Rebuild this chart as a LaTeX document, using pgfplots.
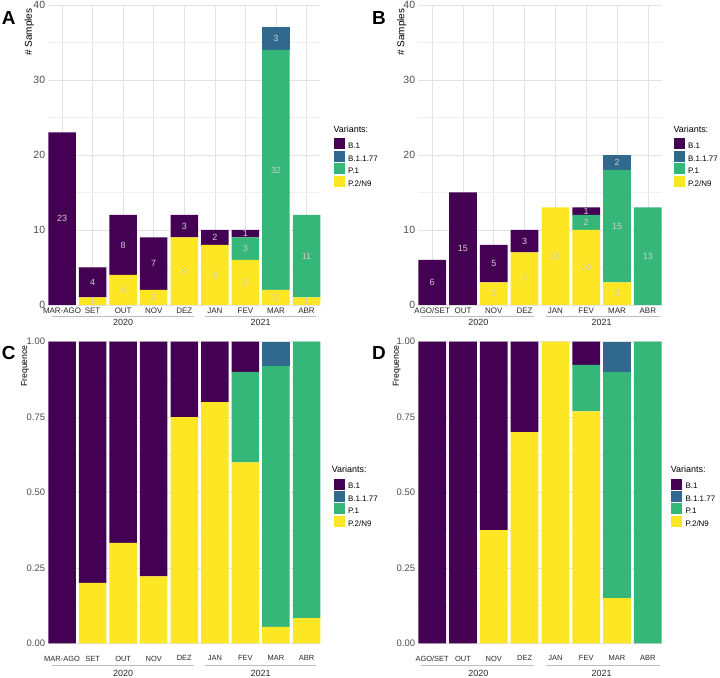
\documentclass[border=0pt]{standalone}
\usepackage{fontspec}
\setmainfont{Liberation Sans}
\usepackage{pgfplots}
\usepackage{pgfplotstable}
\pgfplotsset{compat=1.18}

\definecolor{cB}{HTML}{440154}
\definecolor{cBB}{HTML}{31688E}
\definecolor{cP}{HTML}{35B779}
\definecolor{cPN}{HTML}{FDE725}
\definecolor{gmaj}{HTML}{E2E2E2}
\definecolor{gmin}{HTML}{EFEFEF}
\definecolor{tgray}{HTML}{4D4D4D}
\definecolor{lblgray}{HTML}{CDCDCD}
\definecolor{yline}{HTML}{BDBDBD}

% counts, panel A
\pgfplotstableread{
x p2 p1 b77 b1
0 0 0 0 23
1 1 0 0 4
2 4 0 0 8
3 2 0 0 7
4 9 0 0 3
5 8 0 0 2
6 6 3 0 1
7 2 32 3 0
8 1 11 0 0
}\countsA
\pgfplotstableread{
x y t
0 11.5 23
1 0.5 1
1 3 4
2 2 4
2 8 8
3 1 2
3 5.5 7
4 4.5 9
4 10.5 3
5 4 8
5 9 2
6 3 6
6 7.5 3
6 9.5 1
7 1 2
7 18 32
7 35.5 3
8 0.5 1
8 6.5 11
}\labA
% counts, panel B
\pgfplotstableread{
x p2 p1 b77 b1
0 0 0 0 6
1 0 0 0 15
2 3 0 0 5
3 7 0 0 3
4 13 0 0 0
5 10 2 0 1
6 3 15 2 0
7 0 13 0 0
}\countsB
\pgfplotstableread{
x y t
0 3 6
1 7.5 15
2 1.5 3
2 5.5 5
3 3.5 7
3 8.5 3
4 6.5 13
5 5 10
5 11 2
5 12.5 1
6 1.5 3
6 10.5 15
6 19 2
7 6.5 13
}\labB
% frequencies, panel C
\pgfplotstableread{
x p2 p1 b77 b1
0 0 0 0 1
1 0.2 0 0 0.8
2 0.3333 0 0 0.6667
3 0.2222 0 0 0.7778
4 0.75 0 0 0.25
5 0.8 0 0 0.2
6 0.6 0.3 0 0.1
7 0.0541 0.8649 0.0811 0
8 0.0833 0.9167 0 0
}\freqC
% frequencies, panel D
\pgfplotstableread{
x p2 p1 b77 b1
0 0 0 0 1
1 0 0 0 1
2 0.375 0 0 0.625
3 0.7 0 0 0.3
4 1 0 0 0
5 0.7692 0.1538 0 0.0769
6 0.15 0.75 0.1 0
7 0 1 0 0
}\freqD

\pgfplotsset{
  panel/.style={
    scale only axis, anchor=south west, clip=false,
    axis line style={draw=none}, tick style={draw=none},
    major tick length=0pt, minor tick length=0pt,
    grid=both,
    major grid style={draw=gmaj, line width=0.6bp},
    minor grid style={draw=gmin, line width=0.45bp},
    /pgf/number format/assume math mode=true,
    yticklabel style={text=tgray, inner sep=0pt, xshift=-3bp},
    xticklabel style={text=black!85, inner sep=0pt},
    ymin=0,
    ybar stacked, bar width=0.9,
    reverse legend,
    legend cell align=left,
  },
  countaxis/.style={
    ymax=40, ytick={0,10,20,30,40}, minor ytick={5,15,25,35},
    yticklabel style={font=\fontsize{10.5}{12}\selectfont},
    xticklabel style={font=\fontsize{8}{9}\selectfont, yshift=-3bp},
    ylabel={\# Samples},
  },
  freqaxis/.style={
    ymax=1, ytick={0,0.25,0.5,0.75,1}, minor ytick={0.125,0.375,0.625,0.875},
    yticklabel style={font=\fontsize{9.5}{11}\selectfont, /pgf/number format/.cd, fixed, fixed zerofill, precision=2},
    xticklabel style={font=\fontsize{7.5}{9}\selectfont, yshift=-12.3bp},
    ylabel={Frequence},
  },
  legpos/.style 2 args={
    legend style={at={(axis description cs:#1,#2)}, anchor=north west, draw=none, fill=none,
      inner sep=0pt, row sep=0pt, nodes={inner sep=0.45bp, font=\fontsize{8}{9}\selectfont}},
  },
  vbar/.style={fill=#1, draw=none,
    legend image code/.code={\fill[#1] (0bp,-2.6bp) rectangle (11bp,8.4bp); \path (14.2bp,0bp);}},
  labelaxis/.style={scale only axis, anchor=south west, hide axis, clip=false, ymin=0},
  barlabels/.style={only marks, mark=none, nodes near coords, point meta=explicit symbolic,
    nodes near coords style={anchor=center, font=\fontsize{9}{10}\selectfont, text=lblgray}},
}

\newcommand\yearmarks[8]{% #1 line shift, #2 label shift, #3 2020 from, #4 2020 to, #5 2020 centre, #6 2021 from, #7 2021 to, #8 2021 centre
  \draw[yline, line width=0.7bp] ([yshift=-#1]axis cs:#3,0) -- ([yshift=-#1]axis cs:#4,0);
  \draw[yline, line width=0.7bp] ([yshift=-#1]axis cs:#6,0) -- ([yshift=-#1]axis cs:#7,0);
  \node[anchor=north, inner sep=0pt, text=black!85, font=\fontsize{9}{10}\selectfont] at ([yshift=-#2]axis cs:#5,0) {2020};
  \node[anchor=north, inner sep=0pt, text=black!85, font=\fontsize{9}{10}\selectfont] at ([yshift=-#2]axis cs:#8,0) {2021};
}

\begin{document}
\begin{tikzpicture}
\path[use as bounding box] (0bp,0bp) rectangle (720bp,678bp);

% ---------------- Panel A ----------------
\begin{axis}[panel, countaxis, at={(48.3bp,373bp)}, width=272bp, height=300bp,
  xmin=-0.45, xmax=8.45,
  xtick={0,...,8}, xticklabels={MAR-AGO,SET,OUT,NOV,DEZ,JAN,FEV,MAR,ABR},
  ylabel style={at={(axis description cs:-0.0699,1)}, anchor=east, font=\fontsize{10}{12}\selectfont},
  legpos={1.0478}{0.5557},
]
\addplot[vbar=cPN] table[x=x,y=p2]{\countsA}; \addlegendentry{P.2/N9}
\addplot[vbar=cP] table[x=x,y=p1]{\countsA}; \addlegendentry{P.1}
\addplot[vbar=cBB] table[x=x,y=b77]{\countsA}; \addlegendentry{B.1.1.77}
\addplot[vbar=cB] table[x=x,y=b1]{\countsA}; \addlegendentry{B.1}
\yearmarks{11.7bp}{14.5bp}{-0.33}{4.31}{2}{4.68}{8.32}{6.5}
\node[anchor=west, inner sep=0pt, font=\fontsize{9}{10}\selectfont] at (axis description cs:1.0478,0.5857) {Variants:};
\end{axis}
\begin{axis}[labelaxis, at={(48.3bp,373bp)}, width=272bp, height=300bp, xmin=-0.45, xmax=8.45, ymax=40]
\addplot[barlabels] table[x=x,y=y,meta=t]{\labA};
\end{axis}

% ---------------- Panel B ----------------
\begin{axis}[panel, countaxis, at={(418.3bp,373bp)}, width=243.4bp, height=300bp,
  xmin=-0.45, xmax=7.45,
  xtick={0,...,7}, xticklabels={AGO/SET,OUT,NOV,DEZ,JAN,FEV,MAR,ABR},
  ylabel style={at={(axis description cs:-0.068,1)}, anchor=east, font=\fontsize{10}{12}\selectfont},
  legpos={1.0477}{0.5557},
]
\addplot[vbar=cPN] table[x=x,y=p2]{\countsB}; \addlegendentry{P.2/N9}
\addplot[vbar=cP] table[x=x,y=p1]{\countsB}; \addlegendentry{P.1}
\addplot[vbar=cBB] table[x=x,y=b77]{\countsB}; \addlegendentry{B.1.1.77}
\addplot[vbar=cB] table[x=x,y=b1]{\countsB}; \addlegendentry{B.1}
\yearmarks{11.7bp}{14.5bp}{-0.35}{3.3}{1.5}{3.7}{7.4}{5.5}
\node[anchor=west, inner sep=0pt, font=\fontsize{9}{10}\selectfont] at (axis description cs:1.0477,0.5857) {Variants:};
\end{axis}
\begin{axis}[labelaxis, at={(418.3bp,373bp)}, width=243.4bp, height=300bp, xmin=-0.45, xmax=7.45, ymax=40]
\addplot[barlabels] table[x=x,y=y,meta=t]{\labB};
\end{axis}

% ---------------- Panel C ----------------
\begin{axis}[panel, freqaxis, at={(48.3bp,34.7bp)}, width=272bp, height=301.6bp,
  xmin=-0.45, xmax=8.45,
  xtick={0,...,8}, xticklabels={MAR-AGO,SET,OUT,NOV,DEZ,JAN,FEV,MAR,ABR},
  ylabel style={at={(axis description cs:-0.0857,1)}, anchor=east, font=\fontsize{8.7}{10}\selectfont},
  legpos={1.0478}{0.547},
]
\addplot[vbar=cPN] table[x=x,y=p2]{\freqC}; \addlegendentry{P.2/N9}
\addplot[vbar=cP] table[x=x,y=p1]{\freqC}; \addlegendentry{P.1}
\addplot[vbar=cBB] table[x=x,y=b77]{\freqC}; \addlegendentry{B.1.1.77}
\addplot[vbar=cB] table[x=x,y=b1]{\freqC}; \addlegendentry{B.1}
\yearmarks{21.7bp}{26.8bp}{-0.33}{4.31}{2}{4.68}{8.32}{6.5}
\node[anchor=west, inner sep=0pt, font=\fontsize{9}{10}\selectfont] at (axis description cs:1.0419,0.577) {Variants:};
\end{axis}

% ---------------- Panel D ----------------
\begin{axis}[panel, freqaxis, at={(418.3bp,34.7bp)}, width=243.4bp, height=301.6bp,
  xmin=-0.45, xmax=7.45,
  xtick={0,...,7}, xticklabels={AGO/SET,OUT,NOV,DEZ,JAN,FEV,MAR,ABR},
  ylabel style={at={(axis description cs:-0.0887,1)}, anchor=east, font=\fontsize{8.7}{10}\selectfont},
  legpos={1.037}{0.547},
]
\addplot[vbar=cPN] table[x=x,y=p2]{\freqD}; \addlegendentry{P.2/N9}
\addplot[vbar=cP] table[x=x,y=p1]{\freqD}; \addlegendentry{P.1}
\addplot[vbar=cBB] table[x=x,y=b77]{\freqD}; \addlegendentry{B.1.1.77}
\addplot[vbar=cB] table[x=x,y=b1]{\freqD}; \addlegendentry{B.1}
\yearmarks{21.7bp}{26.8bp}{-0.35}{3.3}{1.5}{3.7}{7.4}{5.5}
\node[anchor=west, inner sep=0pt, font=\fontsize{9}{10}\selectfont] at (axis description cs:1.037,0.577) {Variants:};
\end{axis}

% panel letters
\node[font=\bfseries\fontsize{19}{20}\selectfont, inner sep=0pt] at (8.8bp,660.5bp) {A};
\node[font=\bfseries\fontsize{19}{20}\selectfont, inner sep=0pt] at (379bp,660.5bp) {B};
\node[font=\bfseries\fontsize{19}{20}\selectfont, inner sep=0pt] at (8.8bp,325.5bp) {C};
\node[font=\bfseries\fontsize{19}{20}\selectfont, inner sep=0pt] at (379bp,325.5bp) {D};
\end{tikzpicture}
\end{document}
